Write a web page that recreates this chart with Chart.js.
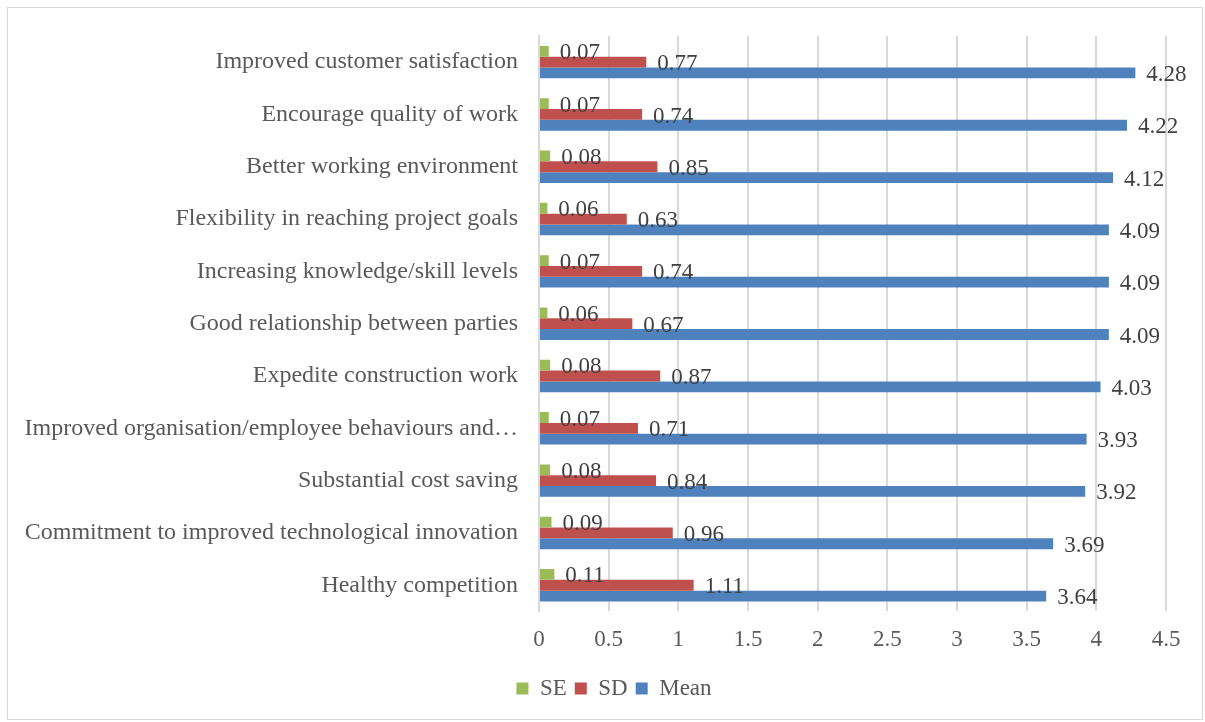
<!DOCTYPE html>
<html>
<head>
<meta charset="utf-8">
<script src="https://cdn.jsdelivr.net/npm/chart.js@4"></script>
<style>
  html, body { margin: 0; padding: 0; background: #fff; }
  #frame {
    position: absolute; left: 7px; top: 7px; width: 1196px; height: 713px;
    border: 1px solid #d9d9d9; box-sizing: border-box;
  }
  #wrap { position: absolute; left: 0; top: 0; width: 1205px; height: 722px; }
</style>
</head>
<body>
<div id="frame"></div>
<div id="wrap"><canvas id="chart" width="1205" height="722"></canvas></div>
<script>
const categories = [
  "Improved customer satisfaction",
  "Encourage quality of work",
  "Better working environment",
  "Flexibility in reaching project goals",
  "Increasing knowledge/skill levels",
  "Good relationship between parties",
  "Expedite construction work",
  "Improved organisation/employee behaviours and\u2026",
  "Substantial cost saving",
  "Commitment to improved technological innovation",
  "Healthy competition"
];
const seValues = [0.07, 0.07, 0.08, 0.06, 0.07, 0.06, 0.08, 0.07, 0.08, 0.09, 0.11];
const sdValues = [0.77, 0.74, 0.85, 0.63, 0.74, 0.67, 0.87, 0.71, 0.84, 0.96, 1.11];
const meanValues = [4.28, 4.22, 4.12, 4.09, 4.09, 4.09, 4.03, 3.93, 3.92, 3.69, 3.64];
const xTicks = [0, 0.5, 1, 1.5, 2, 2.5, 3, 3.5, 4, 4.5];

const FONT = "'Liberation Serif', 'Times New Roman', serif";

// value labels just past the end of each bar
const valueLabels = {
  id: "valueLabels",
  afterDatasetsDraw(chart) {
    const ctx = chart.ctx;
    ctx.save();
    ctx.font = "23px " + FONT;
    ctx.fillStyle = "#404040";
    ctx.textAlign = "left";
    ctx.textBaseline = "middle";
    chart.data.datasets.forEach((ds, i) => {
      chart.getDatasetMeta(i).data.forEach((bar, j) => {
        ctx.fillText(ds.data[j].toFixed(2), bar.x + 11, bar.y + 2);
      });
    });
    ctx.restore();
  }
};

// nudge the legend a little right of the canvas centre
const legendShift = {
  id: "legendShift",
  afterLayout(chart) {
    if (chart.legend) {
      chart.legend.left += 27;
      chart.legend.right += 27;
    }
  }
};

new Chart(document.getElementById("chart").getContext("2d"), {
  type: "bar",
  data: {
    labels: categories,
    datasets: [
      { label: "SE", data: seValues, backgroundColor: "#9bbb59" },
      { label: "SD", data: sdValues, backgroundColor: "#c0504d" },
      { label: "Mean", data: meanValues, backgroundColor: "#4f81bd" }
    ]
  },
  options: {
    indexAxis: "y",
    responsive: false,
    animation: false,
    devicePixelRatio: 1,
    datasets: { bar: { barPercentage: 1, categoryPercentage: 0.62 } },
    layout: { padding: { top: 36, left: 8, right: 39, bottom: 12 } },
    scales: {
      x: {
        min: 0,
        max: 4.5,
        afterBuildTicks: (scale) => {
          scale.ticks = xTicks.map((v) => ({ value: v }));
        },
        grid: { color: "#d9d9d9", lineWidth: 2, drawTicks: false },
        border: { display: false },
        ticks: {
          color: "#595959",
          padding: 15,
          font: { family: FONT, size: 23 },
          callback: (v) => String(v)
        }
      },
      y: {
        afterFit: (scale) => { scale.width = 531; },
        grid: { display: false, drawTicks: false },
        border: { display: true, color: "#d9d9d9", width: 2 },
        ticks: {
          color: "#595959",
          padding: 21,
          autoSkip: false,
          font: { family: FONT, size: 24 }
        }
      }
    },
    plugins: {
      legend: {
        position: "bottom",
        labels: {
          color: "#595959",
          boxWidth: 12,
          boxHeight: 12,
          padding: 8,
          font: { family: FONT, size: 23 }
        }
      },
      tooltip: { enabled: false }
    }
  },
  plugins: [valueLabels, legendShift]
});
</script>
</body>
</html>
